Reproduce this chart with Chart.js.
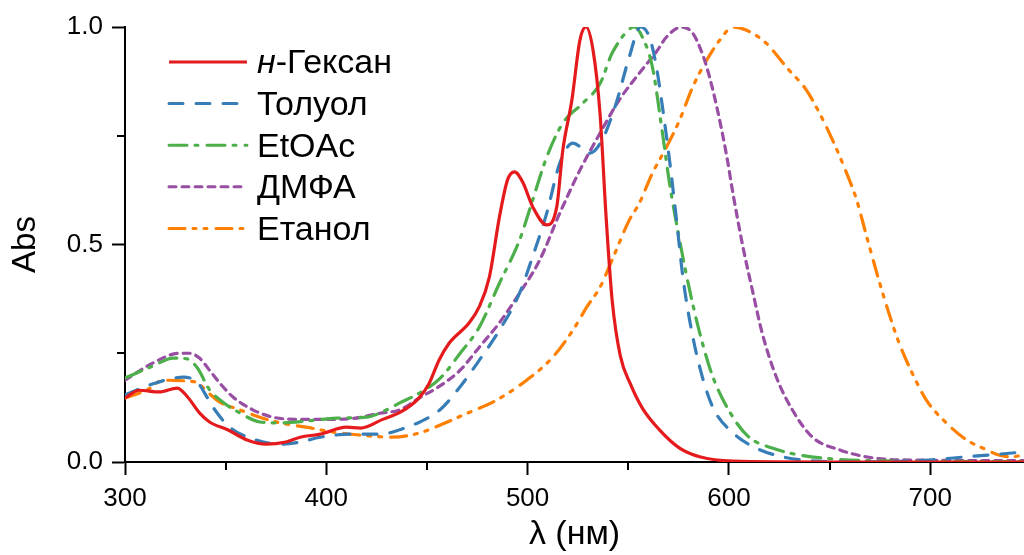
<!DOCTYPE html>
<html>
<head>
<meta charset="utf-8">
<script src="https://cdn.jsdelivr.net/npm/chart.js@4.4.1/dist/chart.umd.min.js"></script>
<style>
  html, body { margin: 0; padding: 0; background: #ffffff; }
  #wrap { width: 1024px; height: 555px; position: relative; }
</style>
</head>
<body>
<div id="wrap"><canvas id="c" width="1024" height="555"></canvas></div>
<script>
// ---- Data (wavelength in nm, absorbance normalised) ----
const seriesLabels = ['н-Гексан', 'Толуол', 'EtOAc', 'ДМФА', 'Етанол'];

const hexaneX = [300, 307, 317, 326, 331, 337, 342, 351, 361, 370, 380, 387, 397, 410, 417, 428, 437, 446, 451, 456, 461, 471, 476, 481, 486, 490, 493.5, 497.5, 502.5, 509.5, 514.5, 517.5, 522, 526, 529, 532.5, 536, 539, 542, 546, 551, 557, 565.5, 575.5, 585.5, 602, 650, 750];
const hexaneY = [0.147, 0.165, 0.161, 0.170, 0.150, 0.113, 0.092, 0.074, 0.050, 0.041, 0.046, 0.057, 0.064, 0.080, 0.078, 0.098, 0.115, 0.147, 0.180, 0.234, 0.273, 0.320, 0.357, 0.425, 0.563, 0.648, 0.667, 0.644, 0.587, 0.545, 0.587, 0.717, 0.832, 0.970, 1.000, 0.947, 0.800, 0.563, 0.372, 0.245, 0.180, 0.124, 0.074, 0.032, 0.012, 0.002, 0.000, 0.000];

const tolueneX = [300, 314, 329, 336, 341, 344, 352, 365.5, 377, 387, 397, 412, 427, 436.5, 441.5, 446.5, 456.5, 466.5, 476, 486, 496, 502.5, 509.5, 516, 522.5, 531, 537, 544, 550.5, 556, 560.5, 564, 567, 570.5, 574, 577, 580.5, 585.5, 592, 602, 613.5, 626.5, 643.5, 668, 701, 718, 734, 746.5];
const tolueneY = [0.154, 0.180, 0.195, 0.183, 0.147, 0.124, 0.080, 0.050, 0.041, 0.046, 0.057, 0.064, 0.064, 0.074, 0.083, 0.092, 0.120, 0.173, 0.234, 0.303, 0.388, 0.472, 0.572, 0.687, 0.733, 0.710, 0.740, 0.825, 0.931, 1.000, 0.977, 0.908, 0.816, 0.694, 0.556, 0.430, 0.326, 0.218, 0.126, 0.067, 0.032, 0.012, 0.002, 0.000, 0.005, 0.012, 0.018, 0.023];

const etoacX = [300, 314, 324, 331, 336, 342, 348.5, 357, 367, 377, 390, 405, 420, 430, 436.5, 446.5, 456.5, 466.5, 476, 486, 496, 502.5, 509.5, 517.5, 527.5, 536, 542, 550.5, 553, 557, 562, 567, 570.5, 575.5, 580.5, 585.5, 592, 602, 610, 621.5, 635, 651.5, 685, 746.5];
const etoacY = [0.193, 0.221, 0.239, 0.237, 0.216, 0.166, 0.138, 0.113, 0.092, 0.090, 0.094, 0.101, 0.103, 0.120, 0.136, 0.159, 0.192, 0.250, 0.310, 0.411, 0.510, 0.602, 0.701, 0.779, 0.825, 0.870, 0.940, 0.995, 1.000, 0.977, 0.908, 0.756, 0.641, 0.510, 0.395, 0.297, 0.196, 0.103, 0.057, 0.032, 0.016, 0.007, 0.002, 0.001];

const dmfX = [300, 314, 327, 332, 337, 342, 347, 353.5, 363.5, 373.5, 387, 400, 413, 426.5, 436.5, 446.5, 456.5, 466.5, 476, 486, 496, 506, 516, 526, 536, 545.5, 555.5, 564, 569, 576.5, 582, 585.5, 589, 594, 599, 602, 607, 612, 616.5, 623.5, 631.5, 641.5, 655, 668, 685, 746.5];
const dmfY = [0.188, 0.228, 0.250, 0.250, 0.239, 0.211, 0.182, 0.150, 0.120, 0.103, 0.098, 0.098, 0.100, 0.112, 0.120, 0.148, 0.175, 0.211, 0.264, 0.320, 0.388, 0.464, 0.572, 0.671, 0.756, 0.832, 0.894, 0.943, 0.977, 1.000, 0.986, 0.954, 0.908, 0.816, 0.701, 0.618, 0.494, 0.388, 0.297, 0.196, 0.120, 0.057, 0.028, 0.012, 0.005, 0.003];

const ethanolX = [300, 311, 319, 331, 336, 341, 347, 357, 367, 377, 390, 403, 416.5, 433, 446.5, 453, 470, 484.5, 499.5, 512.5, 522.5, 529.5, 536, 542, 550.5, 555.5, 562, 569, 575.5, 582, 589, 595.5, 602, 608.5, 618.5, 628.5, 638.5, 645, 651.5, 658.5, 663.5, 668, 674.5, 679.5, 684.5, 691, 698, 708, 718, 728, 734, 740.5, 746.5];
const ethanolY = [0.147, 0.166, 0.188, 0.186, 0.182, 0.161, 0.138, 0.120, 0.103, 0.090, 0.080, 0.069, 0.062, 0.057, 0.067, 0.078, 0.112, 0.142, 0.188, 0.241, 0.303, 0.357, 0.402, 0.465, 0.556, 0.595, 0.664, 0.724, 0.786, 0.862, 0.924, 0.970, 1.000, 0.993, 0.963, 0.908, 0.855, 0.802, 0.740, 0.664, 0.602, 0.526, 0.418, 0.342, 0.274, 0.205, 0.143, 0.090, 0.051, 0.028, 0.016, 0.012, 0.016];

const xTickLabels = ['300', '400', '500', '600', '700'];
const yTickLabels = ['0.0', '0.5', '1.0'];

// ---- Styles ----
const FONT = '"Liberation Sans", Arial, Helvetica, sans-serif';
const colors = ['#e41a1c', '#377eb8', '#4daf4a', '#984ea3', '#ff7f00'];
const dashes = [[], [14, 13], [18, 8, 3, 9], [7, 6], [16, 8, 3, 8, 3, 9]];
const xs = [hexaneX, tolueneX, etoacX, dmfX, ethanolX];
const ys = [hexaneY, tolueneY, etoacY, dmfY, ethanolY];

const datasets = seriesLabels.map((lab, i) => ({
  label: lab,
  data: xs[i].map((x, j) => ({ x: x, y: ys[i][j] })),
  borderColor: colors[i],
  backgroundColor: colors[i],
  borderWidth: 3.2,
  borderDash: dashes[i],
  borderCapStyle: i === 0 ? 'butt' : 'round',
  pointRadius: 0,
  fill: false,
  cubicInterpolationMode: 'monotone'
}));

// minor ticks (drawn through the scales)
const minorTicks = {
  id: 'minorTicks',
  afterDraw(chart) {
    const ctx = chart.ctx;
    const xS = chart.scales.x, yS = chart.scales.y;
    ctx.save();
    ctx.strokeStyle = '#000';
    ctx.lineWidth = 2;
    xS.ticks.forEach(t => {
      if (Math.abs(t.value % 100) > 1e-6) {
        const px = Math.round(xS.getPixelForValue(t.value));
        ctx.beginPath();
        ctx.moveTo(px, yS.bottom);
        ctx.lineTo(px, yS.bottom + 8);
        ctx.stroke();
      }
    });
    yS.ticks.forEach(t => {
      if (Math.abs((t.value * 100) % 50) > 1e-6) {
        const py = Math.round(yS.getPixelForValue(t.value));
        ctx.beginPath();
        ctx.moveTo(xS.left - 8, py);
        ctx.lineTo(xS.left, py);
        ctx.stroke();
      }
    });
    ctx.restore();
  }
};

// legend inside the plot, drawn from the datasets
const insideLegend = {
  id: 'insideLegend',
  afterDatasetsDraw(chart) {
    const ctx = chart.ctx;
    const area = chart.chartArea;
    const x0 = area.left + 44, x1 = area.left + 122, tx = area.left + 132;
    const y0 = area.top + 35, dy = 41.6;
    ctx.save();
    chart.data.datasets.forEach((ds, i) => {
      const y = y0 + i * dy;
      ctx.strokeStyle = ds.borderColor;
      ctx.lineWidth = 3;
      ctx.lineCap = ds.borderCapStyle;
      ctx.setLineDash(ds.borderDash);
      ctx.beginPath();
      ctx.moveTo(x0, y);
      ctx.lineTo(x1, y);
      ctx.stroke();
      ctx.setLineDash([]);
      ctx.fillStyle = '#000';
      ctx.textBaseline = 'middle';
      ctx.textAlign = 'left';
      let label = ds.label;
      let cx = tx;
      if (label.startsWith('н-')) {
        ctx.font = 'italic 34px ' + FONT;
        ctx.fillText('н', cx, y + 2);
        cx += ctx.measureText('н').width;
        label = label.slice(1);
      }
      ctx.font = '34px ' + FONT;
      ctx.fillText(label, cx, y + 2);
    });
    ctx.restore();
  }
};

new Chart(document.getElementById('c'), {
  type: 'line',
  data: { datasets: datasets },
  options: {
    responsive: false,
    animation: false,
    devicePixelRatio: 1,
    layout: { padding: { top: 27, right: 0, bottom: 0, left: 0 } },
    plugins: { legend: { display: false }, tooltip: { enabled: false } },
    scales: {
      x: {
        type: 'linear',
        min: 300,
        max: 746.6,
        afterFit(s) { s.height = 93; },
        border: { display: true, color: '#000', width: 2 },
        grid: {
          drawOnChartArea: false,
          drawTicks: true,
          tickLength: 13,
          tickWidth: 2,
          tickColor: c => (c.tick && Math.abs(c.tick.value % 100) < 1e-6) ? '#000' : 'rgba(0,0,0,0)'
        },
        ticks: {
          stepSize: 50,
          includeBounds: false,
          autoSkip: false,
          maxRotation: 0,
          padding: 8,
          color: '#000',
          font: { family: FONT, size: 26 },
          callback: v => {
            const idx = xTickLabels.indexOf(String(v));
            return idx >= 0 ? xTickLabels[idx] : '';
          }
        },
        title: {
          display: true,
          text: 'λ (нм)',
          color: '#000',
          font: { family: FONT, size: 34, lineHeight: 1.2 },
          padding: { top: 0, bottom: 0 }
        }
      },
      y: {
        type: 'linear',
        min: 0,
        max: 1,
        afterFit(s) { s.width = 125; },
        border: { display: true, color: '#000', width: 2 },
        grid: {
          drawOnChartArea: false,
          drawTicks: true,
          tickLength: 13,
          tickWidth: 2,
          tickColor: c => (c.tick && Math.abs((c.tick.value * 100) % 50) < 1e-6) ? '#000' : 'rgba(0,0,0,0)'
        },
        ticks: {
          stepSize: 0.25,
          autoSkip: false,
          padding: 9,
          color: '#000',
          font: { family: FONT, size: 26 },
          callback: v => {
            const s = Number(v).toFixed(1);
            return (Math.abs((v * 100) % 50) < 1e-6 && yTickLabels.includes(s)) ? s : '';
          }
        },
        title: {
          display: true,
          text: 'Abs',
          color: '#000',
          font: { family: FONT, size: 33, lineHeight: 1.2 },
          padding: { top: 6, bottom: 0 }
        }
      }
    }
  },
  plugins: [minorTicks, insideLegend]
});
</script>
</body>
</html>
